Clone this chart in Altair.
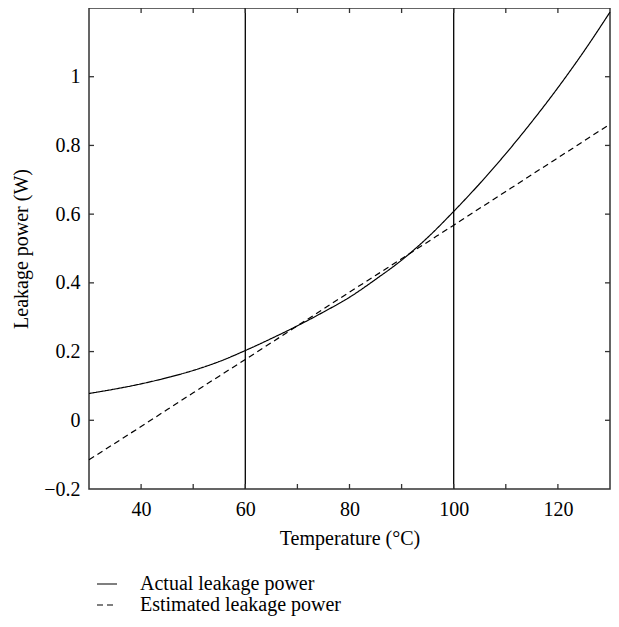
import altair as alt
import pandas as pd

# ---- data ----
temps_actual = [30, 35, 40, 45, 50, 55, 60, 65, 70, 75, 80, 85, 90, 95, 100,
                105, 110, 115, 120, 125, 130]
actual_power = [0.078, 0.091, 0.106, 0.124, 0.145, 0.171, 0.203, 0.238, 0.275,
                0.315, 0.358, 0.410, 0.466, 0.532, 0.608, 0.689, 0.776, 0.869,
                0.968, 1.074, 1.188]
temps_est = [30, 40, 50, 60, 70, 80, 90, 100, 110, 120, 130]
est_power = [-0.115, -0.018, 0.080, 0.177, 0.275, 0.373, 0.470, 0.568, 0.666,
             0.764, 0.862]

series_names = ["Actual leakage power", "Estimated leakage power"]
vlines = [60, 100]
x_label_values = [40, 60, 80, 100, 120]
x_tick_values = [40, 50, 60, 70, 80, 90, 100, 110, 120]
y_label_values = [-0.2, 0, 0.2, 0.4, 0.6, 0.8, 1.0]
y_tick_values = [0, 0.2, 0.4, 0.6, 0.8, 1.0]
x_domain = [30, 130]
y_domain = [-0.2, 1.2]

FONT = "Liberation Serif"
W, H = 521, 481

lines_df = pd.concat([
    pd.DataFrame({"T": temps_actual, "P": actual_power, "series": series_names[0]}),
    pd.DataFrame({"T": temps_est, "P": est_power, "series": series_names[1]}),
])

xs = alt.Scale(domain=x_domain, nice=False, zero=False)
ys = alt.Scale(domain=y_domain, nice=False, zero=False)

lines = alt.Chart(lines_df).mark_line(color="black", strokeWidth=1.2, interpolate="monotone").encode(
    x=alt.X("T:Q", scale=xs, axis=alt.Axis(
        values=x_label_values, format="d", ticks=False, tickSize=0, domain=False, grid=False,
        labelPadding=10, title="Temperature (°C)", titlePadding=9)),
    y=alt.Y("P:Q", scale=ys, axis=alt.Axis(
        values=y_label_values, format="~g", ticks=False, tickSize=0, domain=False, grid=False,
        labelPadding=9, title="Leakage power (W)", titlePadding=12)),
    strokeDash=alt.StrokeDash("series:N", scale=alt.Scale(domain=series_names, range=[[1, 0], [6, 4]]),
                              legend=alt.Legend(title=None, orient="none", legendX=7, legendY=565,
                                                symbolType="stroke", symbolSize=400,
                                                symbolStrokeWidth=1.2, symbolStrokeColor="black",
                                                labelOffset=22, rowPadding=0, padding=0,
                                                labelLimit=400)),
)

vl = alt.Chart(pd.DataFrame({"T": vlines})).mark_rule(color="black", strokeWidth=1.3).encode(
    x=alt.X("T:Q", scale=xs))

xt = pd.DataFrame({"T": x_tick_values})
yt = pd.DataFrame({"P": y_tick_values})
tick_style = dict(color="#333", strokeWidth=1.3)
bottom_ticks = alt.Chart(xt).mark_rule(**tick_style).encode(
    x=alt.X("T:Q", scale=xs), y=alt.value(H), y2=alt.value(H - 5))
top_ticks = alt.Chart(xt).mark_rule(**tick_style).encode(
    x=alt.X("T:Q", scale=xs), y=alt.value(0), y2=alt.value(5))
left_ticks = alt.Chart(yt).mark_rule(**tick_style).encode(
    y=alt.Y("P:Q", scale=ys), x=alt.value(0), x2=alt.value(5))
right_ticks = alt.Chart(yt).mark_rule(**tick_style).encode(
    y=alt.Y("P:Q", scale=ys), x=alt.value(W), x2=alt.value(W - 5))

chart = alt.layer(lines, vl, bottom_ticks, top_ticks, left_ticks, right_ticks).properties(
    width=W, height=H,
    autosize=alt.AutoSizeParams(type="none"),
    padding={"left": 81, "top": 0, "right": 1, "bottom": 134},
).configure_view(
    stroke="#333", strokeWidth=1.5
).configure_axis(
    labelFont=FONT, titleFont=FONT, labelFontSize=20, titleFontSize=20,
    labelColor="black", titleColor="black", titleFontWeight="normal",
).configure_legend(
    labelFont=FONT, labelFontSize=20, labelColor="black",
)

chart.save("out.html", embed_options={"renderer": "svg", "actions": False})
